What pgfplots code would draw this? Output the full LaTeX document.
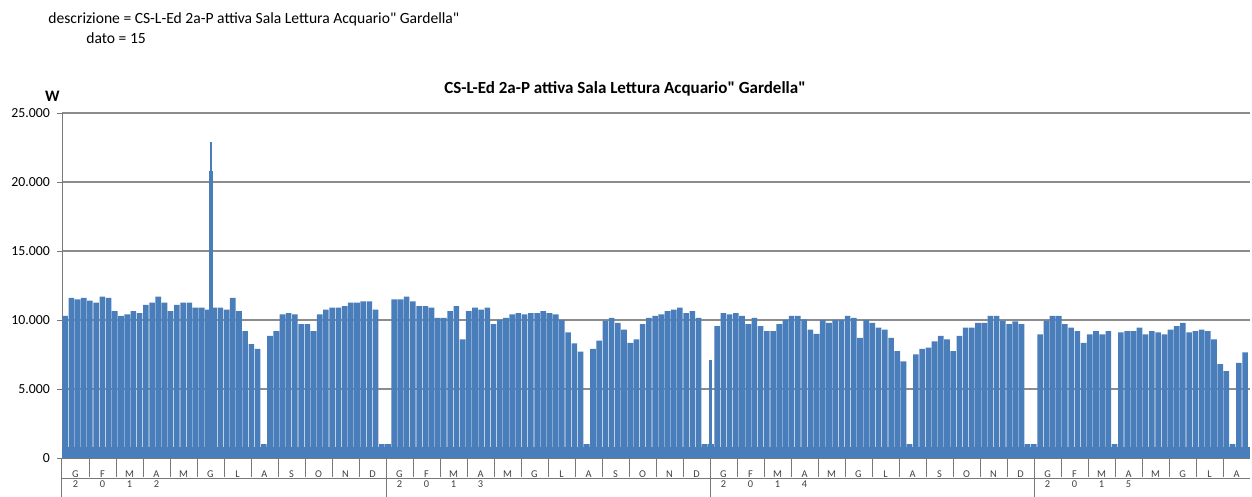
\documentclass[border=0pt]{standalone}
\usepackage{fontspec}
\setmainfont{Carlito}[Ligatures=TeXOff]
\usepackage{pgfplots}
\pgfplotsset{compat=1.18}
\definecolor{barblue}{RGB}{74,126,187}
\definecolor{gridgray}{RGB}{140,140,140}
\definecolor{sepgray}{RGB}{120,120,120}
\newcommand\yr[2]{\node[anchor=base,font=\fontsize{5.2}{6}\selectfont,text=black!75] at ([yshift=-15pt]axis cs:#1,0) {#2};}
\begin{document}
\begin{tikzpicture}
\begin{axis}[
  at={(0,0)}, anchor=south west,
  width=594pt, height=172.5pt, scale only axis,
  xmin=0, xmax=191.3, ymin=0, ymax=25000,
  axis lines=left, axis line style={-, draw=sepgray},
  ytick={0,5000,...,25000},
  scaled y ticks=false,
  /pgf/number format/1000 sep={.},
  /pgf/number format/assume math mode=true,
  ymajorgrids, grid style={draw=gridgray, line width=0.6pt},
  tick align=outside, major tick length=2.5pt,
  ytick style={draw=sepgray},
  yticklabel style={font=\fontsize{6.9}{8}\selectfont},
  xtick={2.1739,6.5217,...,189.2},
  xticklabels={G,F,M,A,M,G,L,A,S,O,N,D,G,F,M,A,M,G,L,A,S,O,N,D,G,F,M,A,M,G,L,A,S,O,N,D,G,F,M,A,M,G,L,A},
  major x tick style={draw=none},
  minor xtick={0,4.3478,...,187.5},
  minor tick length=9.5pt,
  minor x tick style={draw=sepgray, line width=0.5pt},
  xticklabel style={font=\fontsize{5.2}{6}\selectfont, text=black!75, anchor=base, yshift=-7.5pt},
  clip=false,
]
% baseline level (nights and weekends)
\addplot[fill=barblue, draw=none] coordinates {(0,800) (191.3,800)} \closedcycle;
% weekly peaks (W)
\addplot[ybar, bar shift=0pt, bar width=0.9, fill=barblue, draw=none] coordinates {
(0.5,10300) (1.5,11600) (2.5,11500) (3.5,11600) (4.5,11400) (5.5,11250) (6.5,11700) (7.5,11600)
(8.5,10650) (9.5,10300) (10.5,10400) (11.5,10650) (12.5,10500) (13.5,11100) (14.5,11250) (15.5,11700)
(16.5,11250) (17.5,10650) (18.5,11100) (19.5,11250) (20.5,11250) (21.5,10900) (22.5,10900) (23.5,10750)
(24.5,10900) (25.5,10900) (26.5,10750) (27.5,11600) (28.5,10650) (29.5,9200) (30.5,8250) (31.5,7900)
(32.5,1000) (33.5,8850) (34.5,9200) (35.5,10400) (36.5,10500) (37.5,10400) (38.5,9700) (39.5,9700)
(40.5,9200) (41.5,10400) (42.5,10750) (43.5,10900) (44.5,10900) (45.5,11000) (46.5,11250) (47.5,11250)
(48.5,11350) (49.5,11350) (50.5,10750) (51.5,1000) (52.5,1000) (53.5,11500) (54.5,11500) (55.5,11700)
(56.5,11350) (57.5,11000) (58.5,11000) (59.5,10900) (60.5,10150) (61.5,10150) (62.5,10650) (63.5,11000)
(64.5,8600) (65.5,10650) (66.5,10900) (67.5,10750) (68.5,10900) (69.5,9700) (70.5,10000) (71.5,10150)
(72.5,10400) (73.5,10500) (74.5,10400) (75.5,10500) (76.5,10500) (77.5,10650) (78.5,10500) (79.5,10400)
(80.5,10000) (81.5,9100) (82.5,8300) (83.5,7700) (84.5,1000) (85.5,7900) (86.5,8500) (87.5,9950)
(88.5,10150) (89.5,9800) (90.5,9300) (91.5,8350) (92.5,8600) (93.5,9700) (94.5,10150) (95.5,10300)
(96.5,10400) (97.5,10650) (98.5,10750) (99.5,10900) (100.5,10500) (101.5,10650) (102.5,10150) (103.5,1000)
(104.5,1000) (105.5,9550) (106.5,10500) (107.5,10400) (108.5,10500) (109.5,10300) (110.5,9700) (111.5,10150)
(112.5,9550) (113.5,9200) (114.5,9200) (115.5,9700) (116.5,10000) (117.5,10300) (118.5,10300) (119.5,10050)
(120.5,9300) (121.5,9000) (122.5,10000) (123.5,9800) (124.5,10000) (125.5,10000) (126.5,10300) (127.5,10150)
(128.5,8700) (129.5,10000) (130.5,9800) (131.5,9450) (132.5,9300) (133.5,8700) (134.5,7750) (135.5,7000)
(136.5,1000) (137.5,7500) (138.5,7900) (139.5,8000) (140.5,8450) (141.5,8850) (142.5,8600) (143.5,7750)
(144.5,8850) (145.5,9450) (146.5,9450) (147.5,9800) (148.5,9800) (149.5,10300) (150.5,10300) (151.5,9950)
(152.5,9700) (153.5,9900) (154.5,9700) (155.5,1000) (156.5,1000) (157.5,8950) (158.5,9950) (159.5,10300)
(160.5,10300) (161.5,9700) (162.5,9450) (163.5,9200) (164.5,8350) (165.5,8950) (166.5,9200) (167.5,8950)
(168.5,9200) (169.5,1000) (170.5,9100) (171.5,9200) (172.5,9200) (173.5,9450) (174.5,8950) (175.5,9200)
(176.5,9100) (177.5,8950) (178.5,9300) (179.5,9550) (180.5,9800) (181.5,9100) (182.5,9200) (183.5,9300)
(184.5,9200) (185.5,8600) (186.5,6800) (187.5,6300) (188.5,1000) (189.5,6900) (190.5,7650)
};
% isolated spikes
\addplot[ybar, bar shift=0pt, bar width=0.25, fill=barblue, draw=none] coordinates {(24.0,22900)};
\addplot[ybar, bar shift=0pt, bar width=0.5, fill=barblue, draw=none] coordinates {(24.0,20800)};
\addplot[ybar, bar shift=0pt, bar width=0.45, fill=barblue, draw=none] coordinates {(104.4,7100)};
% category axis: year level
\draw[sepgray, line width=0.5pt] ([yshift=-10.5pt]rel axis cs:0,0) -- ([yshift=-10.5pt]rel axis cs:1,0);
\draw[sepgray, line width=0.5pt] ([yshift=-2pt]axis cs:0,0) -- ([yshift=-19.5pt]axis cs:0,0);
\draw[sepgray, line width=0.5pt] ([yshift=-2pt]axis cs:52.174,0) -- ([yshift=-19.5pt]axis cs:52.174,0);
\draw[sepgray, line width=0.5pt] ([yshift=-2pt]axis cs:104.348,0) -- ([yshift=-19.5pt]axis cs:104.348,0);
\draw[sepgray, line width=0.5pt] ([yshift=-2pt]axis cs:156.522,0) -- ([yshift=-19.5pt]axis cs:156.522,0);
\yr{2.174}{2}\yr{6.522}{0}\yr{10.870}{1}\yr{15.217}{2}
\yr{54.348}{2}\yr{58.696}{0}\yr{63.043}{1}\yr{67.391}{3}
\yr{106.522}{2}\yr{110.870}{0}\yr{115.217}{1}\yr{119.565}{4}
\yr{158.696}{2}\yr{163.043}{0}\yr{167.391}{1}\yr{171.739}{5}
\end{axis}
\node[anchor=base west, inner sep=0pt, font=\fontsize{7.8}{9}\selectfont] at (-7pt,217pt) {descrizione = CS-L-Ed 2a-P attiva Sala Lettura Acquario" Gardella"};
\node[anchor=base west, inner sep=0pt, font=\fontsize{7.8}{9}\selectfont] at (12pt,207pt) {dato = 15};
\node[anchor=base, font=\bfseries\fontsize{8}{9}\selectfont] at (-4.75pt,178pt) {W};
\node[anchor=base, font=\bfseries\fontsize{8.5}{9}\selectfont] at (281.5pt,182pt) {CS-L-Ed 2a-P attiva Sala Lettura Acquario" Gardella"};
\pgfresetboundingbox
\path (-31pt,-19.5pt) rectangle (595pt,229pt);
\end{tikzpicture}
\end{document}
